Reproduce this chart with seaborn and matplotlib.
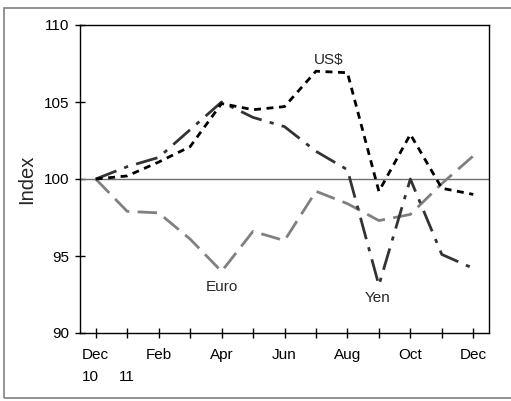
import matplotlib
matplotlib.use("Agg")
import matplotlib.pyplot as plt
import matplotlib.patches as patches
import pandas as pd
import seaborn as sns

# month index 0 = Dec 2010 ... 12 = Dec 2011
months = list(range(13))
usd = [100.0, 100.2, 101.1, 102.1, 104.9, 104.5, 104.7, 107.0, 106.9, 99.2, 102.9, 99.4, 99.0]
yen = [100.0, 100.8, 101.4, 103.2, 105.0, 104.0, 103.4, 101.8, 100.6, 93.1, 100.0, 95.1, 94.2]
euro = [100.0, 97.9, 97.8, 96.1, 94.0, 96.6, 96.0, 99.2, 98.4, 97.3, 97.7, 99.7, 101.5]

x_labels = ["Dec\n10", "\n11", "Feb", "", "Apr", "", "Jun", "", "Aug", "", "Oct", "", "Dec"]
y_ticks = [90, 95, 100, 105, 110]

df = pd.DataFrame({"month": months, "US$": usd, "Yen": yen, "Euro": euro})

sns.set_style("ticks")
plt.rcParams["font.family"] = ["Liberation Sans", "DejaVu Sans"]

fig = plt.figure(figsize=(5.11, 4.01), dpi=100)
ax = fig.add_axes([80 / 511, 1 - 333 / 401, 409 / 511, 308 / 401])

# outer frame
fig.patches.append(patches.Rectangle((4 / 511, 3 / 401), 1.2, 390 / 401,
                                     transform=fig.transFigure, fill=False,
                                     edgecolor="#808080", linewidth=1.2))

ax.axhline(100, color="#707070", linewidth=1, zorder=1)

sns.lineplot(data=df, x="month", y="Euro", ax=ax, color="#808080",
             linewidth=2, dashes=False)
ax.lines[-1].set_dashes([7, 3])
sns.lineplot(data=df, x="month", y="Yen", ax=ax, color="#333333",
             linewidth=2, dashes=False)
ax.lines[-1].set_dashes([8, 3, 1.5, 3])
sns.lineplot(data=df, x="month", y="US$", ax=ax, color="black",
             linewidth=2, dashes=False)
ax.lines[-1].set_dashes([2.5, 2])

ax.text(7.39, 107.7, "US$", ha="center", va="center", fontsize=11)
ax.text(4.0, 93.0, "Euro", ha="center", va="center", fontsize=11)
ax.text(8.95, 92.3, "Yen", ha="center", va="center", fontsize=11)

ax.set_xlim(-0.5, 12.5)
ax.set_ylim(90, 110)
ax.set_xticks(months)
ax.set_xticklabels(x_labels, fontsize=11, linespacing=1.75)
ax.get_xticklabels()[0].set_multialignment("left")
ax.set_yticks(y_ticks)
ax.set_yticklabels([str(v) for v in y_ticks], fontsize=11)
ax.tick_params(direction="inout", length=7, width=1, colors="black")
ax.tick_params(axis="x", pad=7)
ax.tick_params(axis="y", pad=4)
ax.set_xlabel("")
ax.set_ylabel("Index", fontsize=14.5, labelpad=6)
for s in ax.spines.values():
    s.set_color("black")
    s.set_linewidth(1)

fig.savefig("out.png", dpi=100)
